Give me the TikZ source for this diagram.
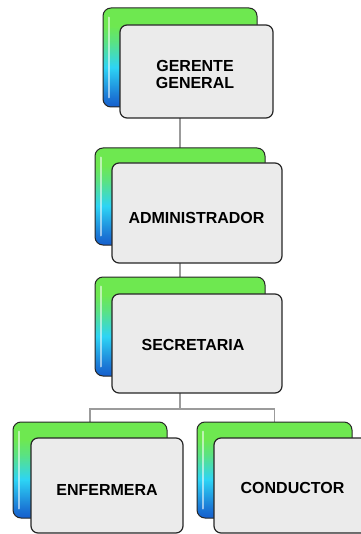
\documentclass[tikz,border=0pt]{standalone}
\usepackage{fontspec}
\setmainfont{Liberation Sans}
\usetikzlibrary{backgrounds}
\definecolor{gtop}{RGB}{110,232,80}
\definecolor{gcyan}{RGB}{45,212,245}
\definecolor{gblue}{RGB}{22,95,205}
\definecolor{frontgray}{RGB}{235,235,235}
\definecolor{conngray}{RGB}{155,155,155}
\pgfdeclareverticalshading{backgrad}{100bp}{color(0bp)=(gblue); color(25bp)=(gblue); color(30bp)=(gblue!80!gcyan); color(45bp)=(gcyan); color(58bp)=(gtop!70!gcyan); color(66bp)=(gtop); color(100bp)=(gtop)}
\tikzset{
  backbox/.style={draw=black!85, line width=1pt, rounded corners=8pt, shading=backgrad, inner sep=0pt},
  frontbox/.style={draw=black!85, line width=1.2pt, rounded corners=7pt, fill=frontgray, inner sep=0pt},
  lbl/.style={font=\fontsize{16}{16.5}\selectfont\bfseries, align=center, inner sep=0pt, text=black},
  conn/.style={draw=conngray, line width=1.6pt},
  shine/.style={draw=white, opacity=0.55, line width=2pt, line cap=round}
}
\begin{document}
\begin{tikzpicture}[x=1pt,y=-1pt]
\useasboundingbox (0,0) rectangle (360,534);
% level 1
\node[backbox, minimum width=154pt, minimum height=99pt] (b1) at (180,57.5) {};
\draw[shine] ([xshift=6pt,yshift=-10pt]b1.north west) -- ([xshift=6pt,yshift=10pt]b1.south west);
\node[frontbox, minimum width=153pt, minimum height=93pt] (f1) at (196.5,71.5) {};
\node[lbl] (t1) at ([xshift=-1.5pt,yshift=-3pt]f1.center) {GERENTE\\GENERAL};
% level 2
\node[backbox, minimum width=170pt, minimum height=97pt] (b2) at (180,196.5) {};
\draw[shine] ([xshift=6pt,yshift=-10pt]b2.north west) -- ([xshift=6pt,yshift=10pt]b2.south west);
\node[frontbox, minimum width=170pt, minimum height=100pt] (f2) at (197,213) {};
\node[lbl] (t2) at ([xshift=-0.5pt,yshift=-5pt]f2.center) {ADMINISTRADOR};
% level 3
\node[backbox, minimum width=170pt, minimum height=99pt] (b3) at (180,326.5) {};
\draw[shine] ([xshift=6pt,yshift=-10pt]b3.north west) -- ([xshift=6pt,yshift=10pt]b3.south west);
\node[frontbox, minimum width=170pt, minimum height=99pt] (f3) at (197,343.5) {};
\node[lbl] (t3) at ([xshift=-4pt,yshift=-1.5pt]f3.center) {SECRETARIA};
% level 4
\node[backbox, minimum width=154pt, minimum height=96pt] (b4) at (90,470) {};
\draw[shine] ([xshift=6pt,yshift=-10pt]b4.north west) -- ([xshift=6pt,yshift=10pt]b4.south west);
\node[frontbox, minimum width=152pt, minimum height=95pt] (f4) at (107,485.5) {};
\node[lbl] (t4) at ([yshift=-4pt]f4.center) {ENFERMERA};
\node[backbox, minimum width=155pt, minimum height=96pt] (b5) at (274.5,470) {};
\draw[shine] ([xshift=6pt,yshift=-10pt]b5.north west) -- ([xshift=6pt,yshift=10pt]b5.south west);
\node[frontbox, minimum width=156pt, minimum height=95pt] (f5) at (292,485.5) {};
\node[lbl] (t5) at ([xshift=0.5pt,yshift=-2.5pt]f5.center) {CONDUCTOR};
% connectors
\coordinate (j) at (180,409);
\begin{scope}[on background layer]
\draw[conn] (b1.center) -- (b2.center);
\draw[conn] (b2.center) -- (b3.center);
\draw[conn] (b3.center) -- (j);
\draw[conn] (j) -| (b4.center);
\draw[conn] (j) -| (b5.center);
\end{scope}
\end{tikzpicture}
\end{document}
